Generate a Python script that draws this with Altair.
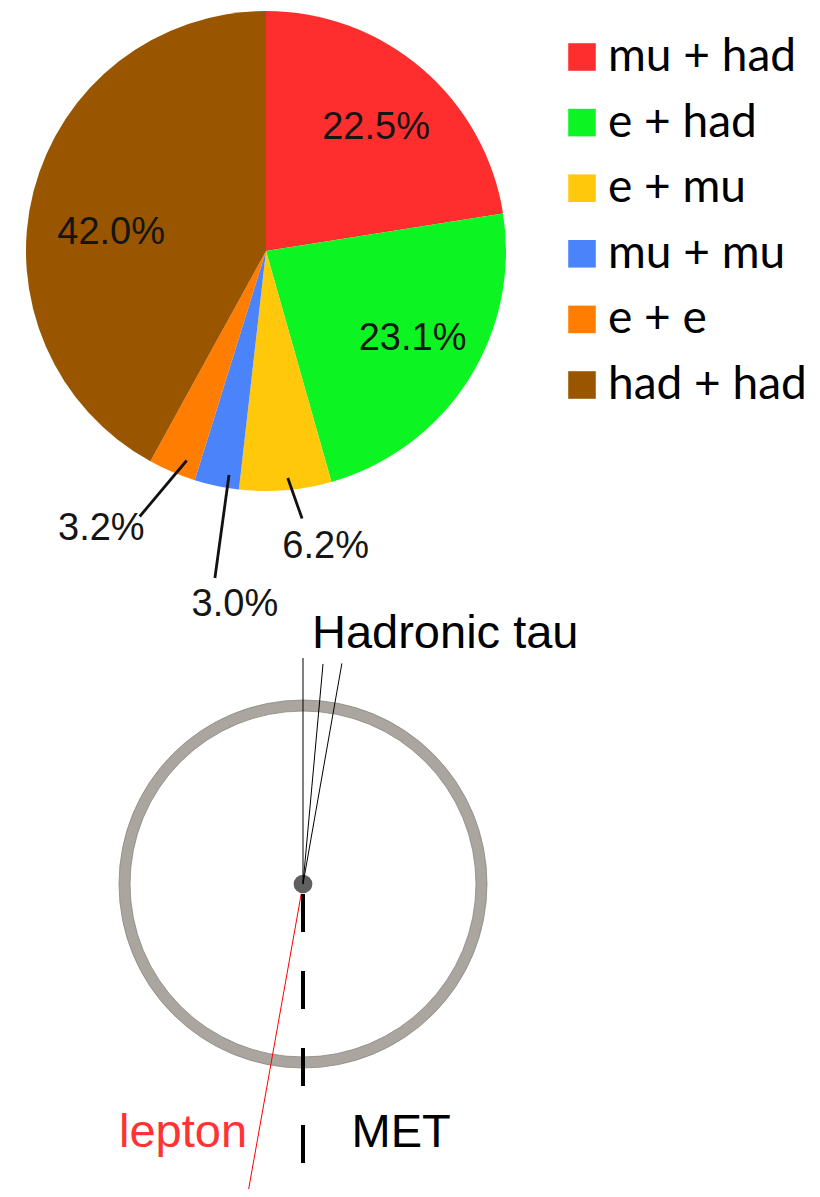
import math
import altair as alt
import pandas as pd

# ---------------- data ----------------
categories = ["mu + had", "e + had", "e + mu", "mu + mu", "e + e", "had + had"]
shares = [22.5, 23.1, 6.2, 3.0, 3.2, 42.0]
share_labels = ["22.5%", "23.1%", "6.2%", "3.0%", "3.2%", "42.0%"]
colors = ["#ff2e2e", "#0cf522", "#ffc80a", "#4a83fa", "#ff7d00", "#995500"]

# event-display sketch: direction (deg, clockwise from up) and drawn length
objects = ["track 1", "track 2", "track 3", "lepton", "MET"]
direction_deg = [0.0, 5.2, 10.0, 190.1, 180.0]
length_px = [226, 221, 224, 319, 280]

annotations = ["Hadronic tau", "lepton", "MET"]

# ---------------- layout ----------------
W, H = 804, 1181
PIE_CX, PIE_CY, PIE_R = 258, 243, 240
DET_CX, DET_CY = 295, 876
RING_IN, RING_OUT = 173, 184

# label placement (radius, angle nudge from slice middle)
label_place = {
    "mu + had": (157, 4.0), "e + had": (177, 1.5), "e + mu": (313, -6.3),
    "mu + mu": (366, -7.0), "e + e": (333, 6.6), "had + had": (155, -11.8),
}
# leader lines: (r0, nudge0, r1, nudge1)
leader_place = {
    "e + mu": (228, -0.8, 270, -3.0),
    "mu + mu": (227, -2.5, 331, -3.0),
    "e + e": (224, -2.3, 294, 2.4),
}

def polar(cx, cy, r, deg):
    a = math.radians(deg)
    return cx + r * math.sin(a), cy - r * math.cos(a)

total = sum(shares)
pie_df = pd.DataFrame({"category": categories, "share": shares,
                       "order": list(range(len(categories)))})

lab_rows, lead_rows = [], []
cum = 0.0
for cat, s, lab in zip(categories, shares, share_labels):
    mid = (cum + s / 2) / total * 360.0
    cum += s
    r, nud = label_place[cat]
    x, y = polar(PIE_CX, PIE_CY, r, mid + nud)
    lab_rows.append({"x": x, "y": y, "t": lab})
    if cat in leader_place:
        r0, n0, r1, n1 = leader_place[cat]
        x0, y0 = polar(PIE_CX, PIE_CY, r0, mid + n0)
        x1, y1 = polar(PIE_CX, PIE_CY, r1, mid + n1)
        lead_rows.append({"x": x0, "y": y0, "x2": x1, "y2": y1})
lab_df = pd.DataFrame(lab_rows)
lead_df = pd.DataFrame(lead_rows)

start_r = {"track 1": 0, "track 2": 0, "track 3": 0, "lepton": 10, "MET": 10}
seg_rows = []
for name, d, L in zip(objects, direction_deg, length_px):
    x0, y0 = polar(DET_CX, DET_CY, start_r[name], d)
    x1, y1 = polar(DET_CX, DET_CY, L, d)
    seg_rows.append({"name": name, "x": x0, "y": y0, "x2": x1, "y2": y1})
seg_df = pd.DataFrame(seg_rows)

ann_df = pd.DataFrame({"t": annotations, "x": [304, 175, 343.5], "y": [640, 1139, 1139]})

X = alt.X("x:Q", scale=alt.Scale(domain=[0, W], nice=False, zero=False), axis=None)
Y = alt.Y("y:Q", scale=alt.Scale(domain=[0, H], nice=False, zero=False, reverse=True), axis=None)

pie = alt.Chart(pie_df).mark_arc(outerRadius=PIE_R).encode(
    theta=alt.Theta("share:Q", stack=True),
    order=alt.Order("order:Q"),
    color=alt.Color(
        "category:N",
        sort=categories,
        scale=alt.Scale(domain=categories, range=colors),
        legend=alt.Legend(
            title=None, orient="none", legendX=551, legendY=26,
            symbolType="square", symbolSize=760, symbolStrokeWidth=0, symbolOpacity=1,
            labelFont="Lato", labelFontSize=46, labelColor="#000000", labelLimit=400,
            labelOffset=3, rowPadding=19.6, padding=0,
        ),
    ),
    x=alt.value(PIE_CX), y=alt.value(PIE_CY),
)

leaders = alt.Chart(lead_df).mark_rule(color="#111111", strokeWidth=2.8).encode(
    x=X, y=Y, x2="x2:Q", y2="y2:Q")

pie_text = alt.Chart(lab_df).mark_text(
    font="Liberation Sans", fontSize=38, align="center", baseline="alphabetic", color="#151515"
).encode(x=X, y=Y, text="t:N")

ring = alt.Chart(pd.DataFrame({"a": [0]})).mark_arc(
    innerRadius=RING_IN, outerRadius=RING_OUT, theta=0, theta2=2 * math.pi,
    fill="#aba59f", stroke="#8a857f", strokeWidth=0.8,
).encode(x=alt.value(DET_CX), y=alt.value(DET_CY))

dot = alt.Chart(pd.DataFrame({"x": [DET_CX], "y": [DET_CY]})).mark_circle(
    size=350, color="#5f5f5f", opacity=1).encode(x=X, y=Y)

tracks = alt.Chart(seg_df).transform_filter(
    alt.FieldOneOfPredicate(field="name", oneOf=["track 1", "track 2", "track 3"])
).mark_rule(color="#000000", strokeWidth=1).encode(x=X, y=Y, x2="x2:Q", y2="y2:Q")

lepton = alt.Chart(seg_df).transform_filter(alt.datum.name == "lepton").mark_rule(
    color="#ff0000", strokeWidth=1).encode(x=X, y=Y, x2="x2:Q", y2="y2:Q")

met = alt.Chart(seg_df).transform_filter(alt.datum.name == "MET").mark_rule(
    color="#000000", strokeWidth=4, strokeDash=[38, 39], strokeCap="butt"
).encode(x=X, y=Y, x2="x2:Q", y2="y2:Q")

ann_had = alt.Chart(ann_df).transform_filter(alt.datum.t == "Hadronic tau").mark_text(
    font="Liberation Sans", fontSize=47, align="left", baseline="alphabetic", color="#000000"
).encode(x=X, y=Y, text="t:N")
ann_lep = alt.Chart(ann_df).transform_filter(alt.datum.t == "lepton").mark_text(
    font="Liberation Sans", fontSize=47, align="center", baseline="alphabetic", color="#ff3333"
).encode(x=X, y=Y, text="t:N")
ann_met = alt.Chart(ann_df).transform_filter(alt.datum.t == "MET").mark_text(
    font="Liberation Sans", fontSize=47, align="left", baseline="alphabetic", color="#000000"
).encode(x=X, y=Y, text="t:N")

chart = alt.layer(
    pie, leaders, pie_text, ring, dot, tracks, lepton, met, ann_had, ann_lep, ann_met
).properties(
    width=W, height=H, padding=0, autosize=alt.AutoSizeParams(type="none"), background="white"
).configure_view(stroke=None)

chart.save("out.html", embed_options={"renderer": "svg", "actions": False})
